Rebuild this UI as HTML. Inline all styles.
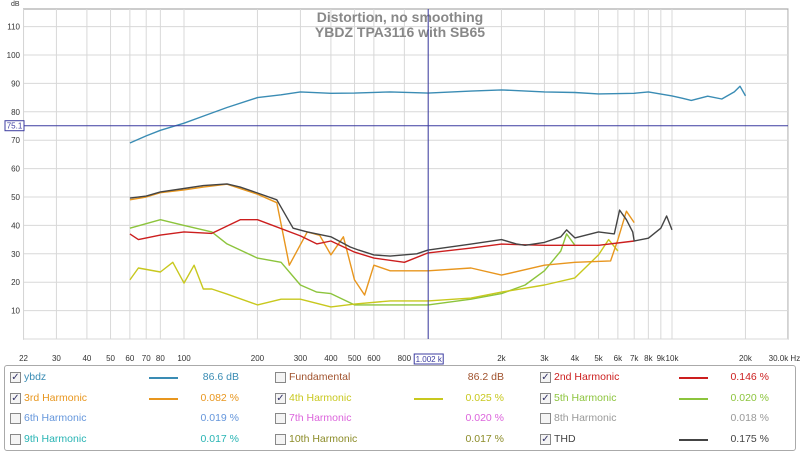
<!DOCTYPE html>
<html><head><meta charset="utf-8"><style>
body{margin:0;width:800px;height:452px;background:#fff;font-family:"Liberation Sans",sans-serif;overflow:hidden}
svg{display:block}
</style></head><body>
<svg id="c" width="800" height="452"></svg>
<script>
const xTicks=[22,30,40,50,60,70,80,100,200,300,400,500,600,800,2000,3000,4000,5000,6000,7000,8000,9000,10000,20000,30000];
const xTickLabels=["22","30","40","50","60","70","80","100","200","300","400","500","600","800","2k","3k","4k","5k","6k","7k","8k","9k","10k","20k","30.0k Hz"];
const yTicks=[0,10,20,30,40,50,60,70,80,90,100,110];
const ybdzF=[60,70,80,100,120,150,200,250,300,400,500,700,1000,1500,2000,3000,4000,5000,7000,8000,10000,11000,12000,14000,16000,18000,19000,20000];
const ybdzV=[69,71.5,73.5,76,78.5,81.5,85,86,87,86.5,86.6,87,86.6,87.3,87.7,87,86.8,86.3,86.5,87,85.6,84.8,84,85.5,84.5,87,89,85.6];
const thdF=[60,70,80,100,120,150,170,200,240,280,320,400,480,520,600,700,900,1000,1500,2000,2300,2500,3000,3500,3700,4000,5000,5800,6100,6500,6900,7000,8000,9000,9500,10000];
const thdV=[49.6,50.3,51.8,53,54,54.6,53.5,51.4,49,39,37.7,36,32.4,31.3,29.6,29.2,30,31.3,33.4,35,33.5,33,34,36,38.4,35.6,37.7,37,45.4,42,37.7,34.5,35.5,39,43.3,38.4];
const h2F=[60,65,80,100,130,170,200,300,350,400,500,600,800,1000,1500,2000,3000,5000,7000];
const h2V=[37,35,36.6,37.7,37.2,42,42,36.3,33.5,34.5,30.6,28.5,27,30.3,32,33.4,33,33,34.5];
const h3F=[60,70,80,100,120,150,200,240,270,320,360,400,450,500,550,600,700,1000,1500,2000,3000,4000,5600,6000,6500,7000];
const h3V=[49,50,51.5,52.5,53.5,54.5,51,48,26,37.7,36.5,29.6,36,20.8,15.5,26,24,24,25,22.5,26,27,27.5,35,45,41];
const h4F=[60,65,80,90,100,110,120,130,150,200,250,300,400,500,700,1000,1500,2000,3000,4000,5000,5500,6000];
const h4V=[20.8,25,23.6,27,19.7,26,17.6,17.6,15.8,12,14,14,11.3,12.3,13.4,13.4,14.4,16.5,19,21.5,29.6,35,31];
const h5F=[60,80,100,130,150,200,250,300,350,400,500,700,1000,1500,2000,2500,3000,3500,3700,4000];
const h5V=[39,42,40,37.7,33.5,28.5,27,19,16.5,16,12,12,12,14,16,19,24,31,37,33];
const NS="http://www.w3.org/2000/svg";
const svg=document.getElementById('c');
const L=23.5,R=788,T=9,B=339;
function X(f){return 184+244*(Math.log10(f)-2);}
function Y(v){return B-v*2.84;}
function mk(t,a,p){const e=document.createElementNS(NS,t);for(const k in a)e.setAttribute(k,a[k]);(p||svg).appendChild(e);return e;}
const bg=mk('rect',{x:L,y:T,width:R-L,height:B-T,fill:'#fff',stroke:'#999'});


const grid=mk('g',{stroke:'#d8d8d8','stroke-width':1});


[...xTicks,1000].forEach(f=>mk('line',{x1:X(f),x2:X(f),y1:T,y2:B},grid));
yTicks.forEach(v=>mk('line',{x1:L,x2:R,y1:Y(v),y2:Y(v)},grid));
const yl=mk('g',{'font-size':8,fill:'#333','text-anchor':'end'});


yTicks.forEach(v=>{if(v===0)return;const t=mk('text',{x:20,y:Y(v)+3},yl);t.textContent=v;});
const db=mk('text',{x:11,y:6,'font-size':7,fill:'#333'});db.textContent='dB';


const xl=mk('g',{'font-size':8,fill:'#333','text-anchor':'middle'});


xTicks.forEach((f,i)=>{const t=mk('text',{x:X(f)+(i===xTicks.length-1?-4:0),y:361},xl);t.textContent=xTickLabels[i];});
const tt=mk('g',{'font-size':14,'font-weight':'bold',fill:'#888','text-anchor':'middle'});


mk('text',{x:400,y:22},tt).textContent='Distortion, no smoothing';
mk('text',{x:400,y:37},tt).textContent='YBDZ TPA3116 with SB65';
function series(F,V,col,name){const d=F.map((f,i)=>(i?'L':'M')+X(f).toFixed(1)+' '+Y(V[i]).toFixed(1)).join(' ');const p=mk('path',{d:d,fill:'none',stroke:col,'stroke-width':1.4,'stroke-linejoin':'round'});

}
series(h5F,h5V,'#8cc43c','series-5th-harmonic');
series(h4F,h4V,'#c8c81e','series-4th-harmonic');
series(h3F,h3V,'#e8961e','series-3rd-harmonic');
series(h2F,h2V,'#cc1e1e','series-2nd-harmonic');
series(thdF,thdV,'#444','series-thd');
series(ybdzF,ybdzV,'#3a8cb4','series-ybdz');
const cur=mk('g',{stroke:'#3c3ca0','stroke-width':1});


mk('line',{x1:L,x2:R,y1:Y(75.1),y2:Y(75.1)},cur);
mk('line',{x1:X(1002),x2:X(1002),y1:T,y2:B},cur);
mk('rect',{x:5,y:Y(75.1)-5,width:19,height:10,fill:'#fff'},cur);
mk('rect',{x:X(1002)-14,y:354,width:29,height:10,fill:'#fff'},cur);
const c1=mk('text',{x:14.5,y:Y(75.1)+3,'font-size':8,fill:'#3c3ca0','text-anchor':'middle',stroke:'none'},cur);c1.textContent='75.1';
const c2=mk('text',{x:X(1002)+0.5,y:362,'font-size':8,fill:'#3c3ca0','text-anchor':'middle',stroke:'none'},cur);c2.textContent='1.002 k';
</script>
<div style="position:absolute;left:4px;top:365px;width:790px;height:84px;border:1px solid #aaa;border-radius:3px;font-size:10.5px">
<script>
const legendNames=[["ybdz","Fundamental","2nd Harmonic"],["3rd Harmonic","4th Harmonic","5th Harmonic"],["6th Harmonic","7th Harmonic","8th Harmonic"],["9th Harmonic","10th Harmonic","THD"]];
const legendVals=[["86.6 dB","86.2 dB","0.146 %"],["0.082 %","0.025 %","0.020 %"],["0.019 %","0.020 %","0.018 %"],["0.017 %","0.017 %","0.175 %"]];
const legendCols=[["#3a8cb4","#a0522d","#cc1e1e"],["#e8961e","#c8c81e","#8cc43c"],["#6496dc","#dc64dc","#999"],["#28b4b4","#8c8c28","#444"]];
const legendChk=[[1,0,1],[1,1,1],[0,0,0],[0,0,1]];
const lg=document.currentScript.parentNode;
for(let r=0;r<4;r++)for(let c=0;c<3;c++){
const x=c*265,y=6+r*20.5;
const cb=document.createElement('div');


cb.style.cssText=`position:absolute;left:${5+x}px;top:${y}px;width:9px;height:9px;border:1px solid #888;background:#f4f4f4;font-size:10px;line-height:9px;color:#336;text-align:center`;
cb.textContent=legendChk[r][c]?'✓':'';lg.appendChild(cb);
const lb=document.createElement('div');


lb.style.cssText=`position:absolute;left:${19+x}px;top:${y-1}px;color:${legendCols[r][c]}`;
lb.textContent=legendNames[r][c];lg.appendChild(lb);
if(legendChk[r][c]&&legendNames[r][c]!=='Fundamental'){const ln=document.createElement('div');


ln.style.cssText=`position:absolute;left:${144+x}px;top:${y+5}px;width:29px;height:2px;background:${legendCols[r][c]}`;lg.appendChild(ln);}
const v=document.createElement('div');


v.style.cssText=`position:absolute;left:${164+x}px;width:70px;text-align:right;top:${y-1}px;color:${legendCols[r][c]}`;
v.textContent=legendVals[r][c];lg.appendChild(v);}
</script>
</div>
</body></html>
